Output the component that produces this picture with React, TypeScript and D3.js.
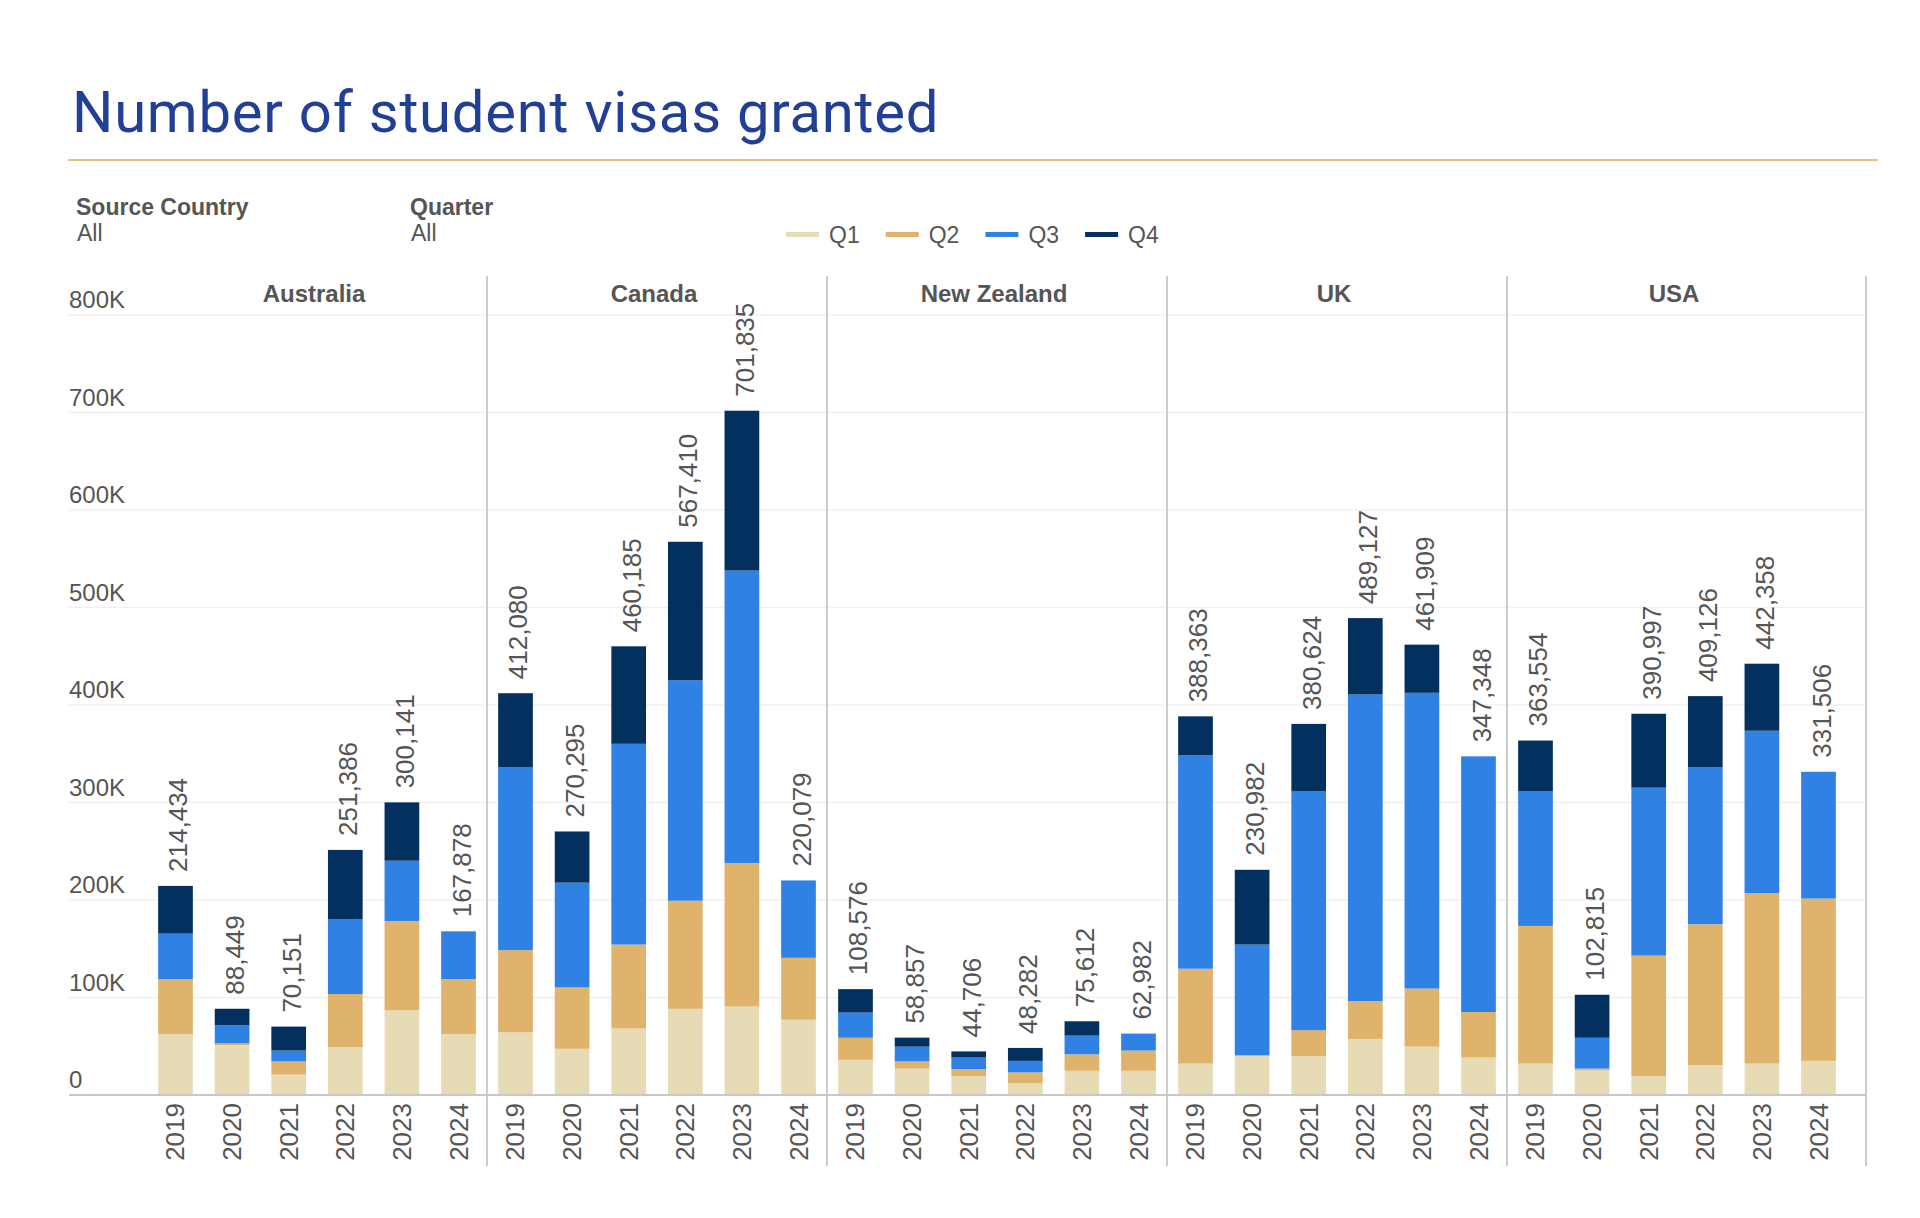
import React from 'react';
import * as d3 from 'd3';

// Student visas granted, by destination country, year and quarter
const countries = ['Australia', 'Canada', 'New Zealand', 'UK', 'USA'];
const years = ['2019', '2020', '2021', '2022', '2023', '2024'];
const quarters = ['Q1', 'Q2', 'Q3', 'Q4'];
const quarterColors = ['#e7dbb5', '#dfb36c', '#2f81e3', '#04305f'];

// one row per country, one column per year
const q1 = [
  [62600, 51300, 20900, 49000, 86800, 62600],
  [64200, 47400, 68200, 88400, 90700, 77200],
  [36100, 27100, 19300, 11900, 24800, 24800],
  [32200, 40600, 40000, 57500, 49600, 38400],
  [32200, 25400, 19300, 30500, 32200, 35000],
];
const q2 = [
  [56300, 1700, 13600, 54600, 91700, 56300],
  [84400, 63000, 86100, 110900, 147300, 63500],
  [22600, 7400, 7300, 11300, 16900, 20800],
  [97300, 0, 26500, 38800, 59600, 46700],
  [141200, 1700, 123700, 144600, 175000, 166500],
];
const q3 = [
  [46600, 18600, 11100, 76500, 61800, 48978],
  [187400, 107400, 205900, 226100, 299900, 79379],
  [25800, 15100, 11800, 11800, 19200, 17382],
  [218900, 113700, 245300, 314500, 303300, 262248],
  [138400, 31600, 172200, 160900, 166400, 130006],
];
const q4 = [
  [48934, 16849, 24551, 71286, 59841, 0],
  [76080, 52495, 99985, 142010, 163935, 0],
  [24076, 9257, 6306, 13282, 14712, 0],
  [39963, 76682, 68824, 78327, 49409, 0],
  [51754, 44115, 75797, 73126, 68758, 0],
];
const yTicks = [0, 100000, 200000, 300000, 400000, 500000, 600000, 700000, 800000];
const yTickLabels = ['0', '100K', '200K', '300K', '400K', '500K', '600K', '700K', '800K'];

const W = 1920;
const H = 1218;
const plotLeft = 69;
const plotRight = 1866;
const panelLeft = 147;
const panelW = 340;
const plotTop = 276;
const plotBottom = 1166;
const sans = '"Liberation Sans", Arial, sans-serif';
const grey = '#555555';

export default function App() {
  const fx = d3
    .scaleBand<string>()
    .domain(countries)
    .range([panelLeft, panelLeft + panelW * countries.length]);
  const x = d3.scaleBand<string>().domain(years).range([0, panelW]).paddingInner(0.387).paddingOuter(0.197);
  const y = d3.scaleLinear().domain([0, 800000]).range([1095, 315]);
  const fmt = d3.format(',');
  const series = [q1, q2, q3, q4];

  const stack = d3.stack<number[]>().keys(d3.range(4) as any).value((d, k) => d[k as any]);

  return (
    <svg
      width={W}
      height={H}
      viewBox={`0 0 ${W} ${H}`}
      style={{ position: 'absolute', left: 0, top: 0, background: '#fff' }}
    >
      <rect width={W} height={H} fill="#fff" />

      {/* title */}
      <text x={72} y={132} fill="#213f95" fontFamily="Roboto, sans-serif" fontSize={58} letterSpacing={0.75}>
        Number of student visas granted
      </text>
      <line x1={68} x2={1878} y1={160} y2={160} stroke="#e6c27e" strokeWidth={2} />

      {/* filters */}
      <g fontFamily={sans} fontSize={23} fill={grey}>
        <text x={76} y={215} fontWeight="bold">Source Country</text>
        <text x={77} y={241}>All</text>
        <text x={410} y={215} fontWeight="bold">Quarter</text>
        <text x={411} y={241}>All</text>
      </g>

      {/* legend */}
      <g fontFamily={sans} fontSize={23} fill={grey}>
        {quarters.map((q, i) => (
          <g key={q} transform={`translate(${786 + i * 99.7},0)`}>
            <rect x={0} y={232} width={33} height={5} fill={quarterColors[i]} />
            <text x={43} y={243}>{q}</text>
          </g>
        ))}
      </g>

      {/* gridlines and y labels */}
      {yTicks.map((t, i) => (
        <g key={t}>
          {t > 0 && (
            <line x1={plotLeft} x2={plotRight} y1={y(t)} y2={y(t)} stroke="#f0f0f0" strokeWidth={1.5} />
          )}
          <text x={plotLeft} y={y(t) - 7} fontFamily={sans} fontSize={24} fill={grey}>
            {yTickLabels[i]}
          </text>
        </g>
      ))}

      {/* panel separators */}
      {countries.slice(1).map((c) => (
        <line key={c} x1={fx(c)} x2={fx(c)} y1={plotTop} y2={plotBottom} stroke="#cccccc" strokeWidth={2} />
      ))}
      <line x1={plotRight} x2={plotRight} y1={plotTop} y2={plotBottom} stroke="#cccccc" strokeWidth={2} />

      {countries.map((c, ci) => {
        const rows = years.map((_, yi) => series.map((s) => s[ci][yi]));
        const layers = stack(rows);
        const px = fx(c) as number;
        return (
          <g key={c} transform={`translate(${px},0)`}>
            <text
              x={panelW / 2 - 3}
              y={302}
              textAnchor="middle"
              fontFamily={sans}
              fontSize={24}
              fontWeight="bold"
              fill={grey}
            >
              {c}
            </text>
            {layers.map((layer, qi) => (
              <g key={qi} fill={quarterColors[qi]}>
                {layer.map((d, yi) =>
                  d[1] > d[0] ? (
                    <rect
                      key={yi}
                      x={x(years[yi])}
                      width={x.bandwidth()}
                      y={y(d[1])}
                      height={y(d[0]) - y(d[1])}
                    />
                  ) : null
                )}
              </g>
            ))}
            {years.map((yr, yi) => {
              const total = d3.sum(rows[yi]);
              const cx = (x(yr) as number) + x.bandwidth() / 2;
              return (
                <g key={yr} fontFamily={sans} fontSize={26} fill={grey}>
                  <text transform={`translate(${cx + 12},${y(total) - 14}) rotate(-90)`}>{fmt(total)}</text>
                  <text transform={`translate(${cx + 9},1103) rotate(-90)`} textAnchor="end">
                    {yr}
                  </text>
                </g>
              );
            })}
          </g>
        );
      })}

      {/* baseline */}
      <line x1={plotLeft} x2={plotRight} y1={y(0)} y2={y(0)} stroke="#c8c8c8" strokeWidth={2} />
    </svg>
  );
}
